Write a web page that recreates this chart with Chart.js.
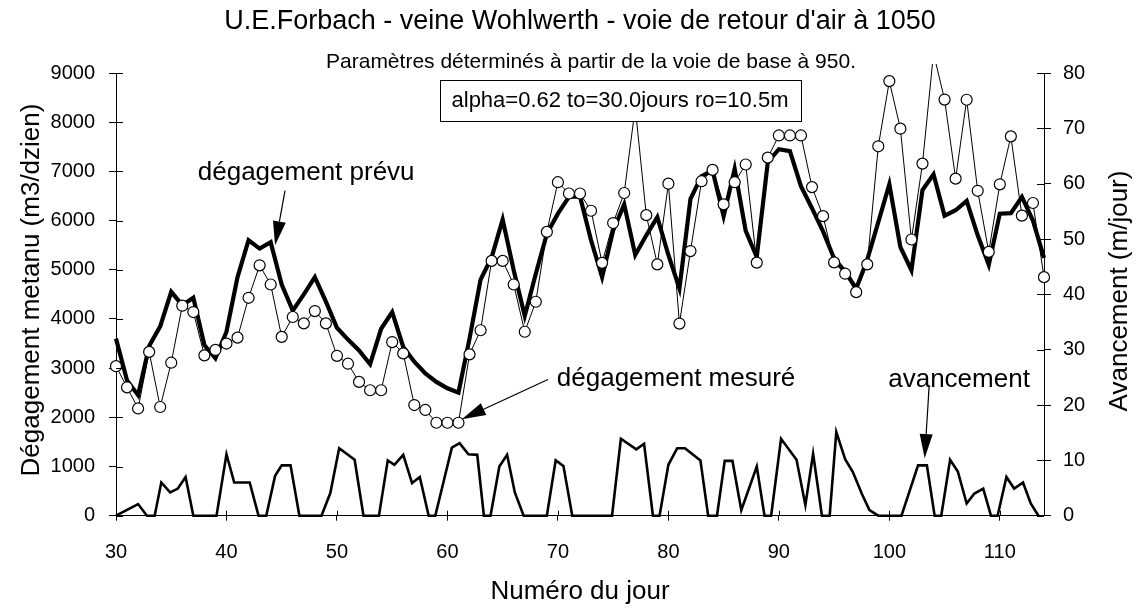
<!DOCTYPE html>
<html>
<head>
<meta charset="utf-8">
<title>U.E.Forbach - veine Wohlwerth</title>
<script src="https://cdn.jsdelivr.net/npm/chart.js@4.4.1/dist/chart.umd.min.js"></script>
<style>
  html, body { margin: 0; padding: 0; background: #fff; }
  #wrap { width: 1136px; height: 608px; }
</style>
</head>
<body>
<div id="wrap"><canvas id="chart" width="1136" height="608"></canvas></div>
<script>
// jours (axe des x)
const days = [30, 31, 32, 33, 34, 35, 36, 37, 38, 39,
              40, 41, 42, 43, 44, 45, 46, 47, 48, 49,
              50, 51, 52, 53, 54, 55, 56, 57, 58, 59,
              60, 61, 62, 63, 64, 65, 66, 67, 68, 69,
              70, 71, 72, 73, 74, 75, 76, 77, 78, 79,
              80, 81, 82, 83, 84, 85, 86, 87, 88, 89,
              90, 91, 92, 93, 94, 95, 96, 97, 98, 99,
              100, 101, 102, 103, 104, 105, 106, 107, 108, 109,
              110, 111, 112, 113, 114];

// dégagement prévu (m3/dzien)
const prevu = [3600, 2750, 2450, 3450, 3850, 4550, 4280, 4430, 3470, 3200,
               3740, 4850, 5600, 5430, 5560, 4700, 4170, 4500, 4850, 4350,
               3820, 3580, 3360, 3080, 3800, 4140, 3430, 3130, 2890, 2720,
               2590, 2500, 3600, 4800, 5250, 6020, 4990, 4060, 4920, 5730,
               6140, 6480, 6490, 5600, 4850, 5800, 6330, 5300, 5700, 6070,
               5300, 4620, 6440, 6900, 7020, 6090, 7050, 5790, 5260, 7190,
               7450, 7410, 6700, 6250, 5780, 5230, 4960, 4620, 5200, 5970,
               6740, 5460, 4990, 6620, 6940, 6100, 6210, 6400, 5700, 5100,
               6140, 6150, 6480, 6000, 5240];

// dégagement mesuré (m3/dzien)
const mesure = [3040, 2610, 2180, 3330, 2210, 3110, 4270, 4140, 3260, 3370,
                3500, 3620, 4430, 5090, 4700, 3635, 4040, 3910, 4160, 3910,
                3250, 3090, 2720, 2550, 2550, 3530, 3300, 2250, 2150, 1890,
                1890, 1890, 3280, 3770, 5180, 5180, 4700, 3740, 4350, 5770,
                6780, 6550, 6550, 6200, 5140, 5950, 6560, 8300, 6110, 5110,
                6750, 3906, 5380, 6800, 7030, 6330, 6780, 7140, 5145, 7280,
                7730, 7730, 7730, 6680, 6090, 5150, 4920, 4545, 5110, 7510,
                8835, 7868, 5615, 7158, 9400, 8460, 6852, 8456, 6605, 5363,
                6737, 7712, 6100, 6357, 4850];

// avancement (m/jour), relevé point par point
const avDays = [30, 32.0, 32.8, 33.5, 34.1, 34.9, 35.6, 36.3, 37.0, 39.1,
                40.0, 40.7, 42.1, 42.9, 43.6, 44.4, 45.0, 45.8, 46.6, 48.6,
                49.4, 50.2, 51.6, 52.4, 53.8, 54.6, 55.2, 56.0, 56.8, 57.5,
                58.3, 58.9, 60.4, 61.1, 61.9, 62.7, 63.3, 63.9, 64.7, 65.4,
                66.1, 66.9, 69.0, 69.8, 70.5, 71.3, 74.9, 75.7, 77.1, 77.8,
                78.6, 79.2, 80.0, 80.8, 81.5, 82.9, 83.6, 84.4, 85.1, 85.8,
                86.6, 88.0, 88.7, 89.3, 90.2, 91.6, 92.4, 93.1, 93.9, 94.6,
                95.2, 96.0, 96.7, 97.5, 98.2, 99.0, 101.1, 102.6, 103.4, 104.1,
                104.7, 105.5, 106.2, 107.0, 107.7, 108.5, 109.2, 109.8, 110.6, 111.3,
                112.1, 112.8, 113.5];
const avValues = [0, 2.1, 0, 0, 6.0, 4.2, 4.9, 7.0, 0, 0,
                  11.1, 6.0, 6.0, 0, 0, 7.2, 9.1, 9.1, 0, 0,
                  4.1, 12.2, 10.1, 0, 0, 10.0, 9.2, 11.0, 5.9, 7.0,
                  0, 0, 12.3, 13.1, 11.1, 11.0, 0, 0, 8.9, 11.0,
                  4.2, 0, 0, 10.0, 9.0, 0, 0, 13.9, 12.0, 13.0,
                  0, 0, 9.2, 12.2, 12.2, 10.0, 0, 0, 9.9, 9.9,
                  1.0, 8.9, 0, 0, 13.9, 10.1, 1.9, 11.2, 0, 0,
                  15.1, 10.2, 7.9, 4.0, 1.0, 0, 0, 9.1, 9.1, 0,
                  0, 10.1, 8.0, 2.2, 4.0, 4.9, 0, 0, 7.0, 4.9,
                  6.0, 2.2, 0];

const xTicks = [30, 40, 50, 60, 70, 80, 90, 100, 110];
const yTicks = [0, 1000, 2000, 3000, 4000, 5000, 6000, 7000, 8000, 9000];
const y1Ticks = [0, 10, 20, 30, 40, 50, 60, 70, 80];

const FONT = '"Liberation Sans", Arial, Helvetica, sans-serif';

// annotations (en unités des axes)
const notes = [
    { text: 'dégagement prévu',  axis: 'y',  x: 37.4, y: 6980, tail: [45.3, 6610], tip: [44.4, 5500] },
    { text: 'dégagement mesuré', axis: 'y',  x: 69.9, y: 2790, tail: [69.1, 2770], tip: [61.3, 1960] },
    { text: 'avancement',        axis: 'y1', x: 99.9, y: 24.6, tail: [103.6, 23.4], tip: [103.2, 10.4] },
];

function drawArrow(ctx, x1, y1, x2, y2) {
    const a = Math.atan2(y2 - y1, x2 - x1);
    const len = 24, half = 6.5;
    const bx = x2 - len * Math.cos(a), by = y2 - len * Math.sin(a);
    ctx.beginPath();
    ctx.moveTo(x1, y1);
    ctx.lineTo(bx, by);
    ctx.lineWidth = 1.2;
    ctx.stroke();
    ctx.beginPath();
    ctx.moveTo(x2, y2);
    ctx.lineTo(bx + half * Math.sin(a), by - half * Math.cos(a));
    ctx.lineTo(bx - half * Math.sin(a), by + half * Math.cos(a));
    ctx.closePath();
    ctx.fill();
}

const decor = {
    id: 'decor',
    afterDraw(chart) {
        const { ctx, chartArea: ca, scales } = chart;
        const x = scales.x, y = scales.y, y1 = scales.y1;
        ctx.save();
        ctx.strokeStyle = '#000';
        ctx.fillStyle = '#000';
        ctx.lineWidth = 1;

        // petites graduations côté intérieur
        ctx.beginPath();
        yTicks.forEach(v => { const p = Math.round(y.getPixelForValue(v)) + 0.5; ctx.moveTo(ca.left, p); ctx.lineTo(ca.left + 7, p); });
        y1Ticks.forEach(v => { const p = Math.round(y1.getPixelForValue(v)) + 0.5; ctx.moveTo(ca.right, p); ctx.lineTo(ca.right - 7, p); });
        xTicks.forEach(v => { const p = Math.round(x.getPixelForValue(v)) + 0.5; ctx.moveTo(p, ca.bottom); ctx.lineTo(p, ca.bottom - 5); });
        ctx.stroke();

        // titres
        ctx.textAlign = 'center';
        ctx.textBaseline = 'middle';
        ctx.font = '27px ' + FONT;
        ctx.fillText("U.E.Forbach - veine Wohlwerth - voie de retour d'air à 1050", 580, 22);
        ctx.font = '21px ' + FONT;
        ctx.fillText('Paramètres déterminés à partir de la voie de base à 950.', 591, 62);
        ctx.font = '26px ' + FONT;
        ctx.fillText('Numéro du jour', 580, 592);

        ctx.save();
        ctx.translate(32, 290);
        ctx.rotate(-Math.PI / 2);
        ctx.fillText('Dégagement metanu (m3/dzien)', 0, 0);
        ctx.restore();
        ctx.save();
        ctx.translate(1120, 291);
        ctx.rotate(-Math.PI / 2);
        ctx.fillText('Avancement (m/jour)', 0, 0);
        ctx.restore();

        // cadre des paramètres
        ctx.fillStyle = '#fff';
        ctx.fillRect(440, 80, 361, 41);
        ctx.strokeRect(440.5, 80.5, 361, 41);
        ctx.fillStyle = '#000';
        ctx.font = '22px ' + FONT;
        ctx.fillText('alpha=0.62 to=30.0jours ro=10.5m', 620, 101);

        // étiquettes et flèches
        ctx.textAlign = 'left';
        ctx.font = '26px ' + FONT;
        notes.forEach(n => {
            const sy = scales[n.axis];
            ctx.fillText(n.text, x.getPixelForValue(n.x), sy.getPixelForValue(n.y));
            drawArrow(ctx,
                x.getPixelForValue(n.tail[0]), sy.getPixelForValue(n.tail[1]),
                x.getPixelForValue(n.tip[0]), sy.getPixelForValue(n.tip[1]));
        });
        ctx.restore();
    }
};

const axisCommon = {
    grid: { drawOnChartArea: false, color: '#000', lineWidth: 1 },
    border: { color: '#000', width: 1 },
};
const tickFont = { family: FONT, size: 20 };

new Chart(document.getElementById('chart'), {
    type: 'line',
    data: {
        datasets: [
            {
                label: 'dégagement mesuré',
                data: days.map((d, i) => ({ x: d, y: mesure[i] })),
                yAxisID: 'y',
                borderColor: '#000', borderWidth: 1,
                pointRadius: 5.5, pointBackgroundColor: '#fff',
                pointBorderColor: '#000', pointBorderWidth: 1.2,
                tension: 0, order: 0,
                clip: { left: 8, top: 9, right: 8, bottom: 8 },
            },
            {
                label: 'dégagement prévu',
                data: days.map((d, i) => ({ x: d, y: prevu[i] })),
                yAxisID: 'y',
                borderColor: '#000', borderWidth: 4.2,
                pointRadius: 0, tension: 0, order: 1,
                clip: 8,
            },
            {
                label: 'avancement',
                data: avDays.map((d, i) => ({ x: d, y: avValues[i] })),
                yAxisID: 'y1',
                borderColor: '#000', borderWidth: 2.6,
                pointRadius: 0, tension: 0, order: 2,
                clip: 8,
            },
        ]
    },
    options: {
        responsive: false,
        animation: false,
        devicePixelRatio: 1,
        layout: { padding: { top: 73, left: 0, right: 0, bottom: 0 } },
        plugins: { legend: { display: false }, tooltip: { enabled: false }, title: { display: false } },
        scales: {
            x: {
                type: 'linear', min: 30, max: 114,
                afterBuildTicks: s => { s.ticks = xTicks.map(v => ({ value: v })); },
                afterFit: s => { s.height = 92.3; },
                ...axisCommon,
                grid: { ...axisCommon.grid, tickLength: 5 },
                ticks: { color: '#000', font: tickFont, padding: 20, maxRotation: 0, autoSkip: false, callback: v => String(v) },
            },
            y: {
                position: 'left', min: 0, max: 9000,
                afterBuildTicks: s => { s.ticks = yTicks.map(v => ({ value: v })); },
                afterFit: s => { s.width = 116; },
                ...axisCommon,
                grid: { ...axisCommon.grid, tickLength: 7 },
                ticks: { color: '#000', font: tickFont, padding: 14, callback: v => String(v) },
            },
            y1: {
                position: 'right', min: 0, max: 80,
                afterBuildTicks: s => { s.ticks = y1Ticks.map(v => ({ value: v })); },
                afterFit: s => { s.width = 92; },
                ...axisCommon,
                grid: { ...axisCommon.grid, tickLength: 7 },
                ticks: { color: '#000', font: tickFont, padding: 12, callback: v => String(v) },
            },
        }
    },
    plugins: [decor]
});
</script>
</body>
</html>
